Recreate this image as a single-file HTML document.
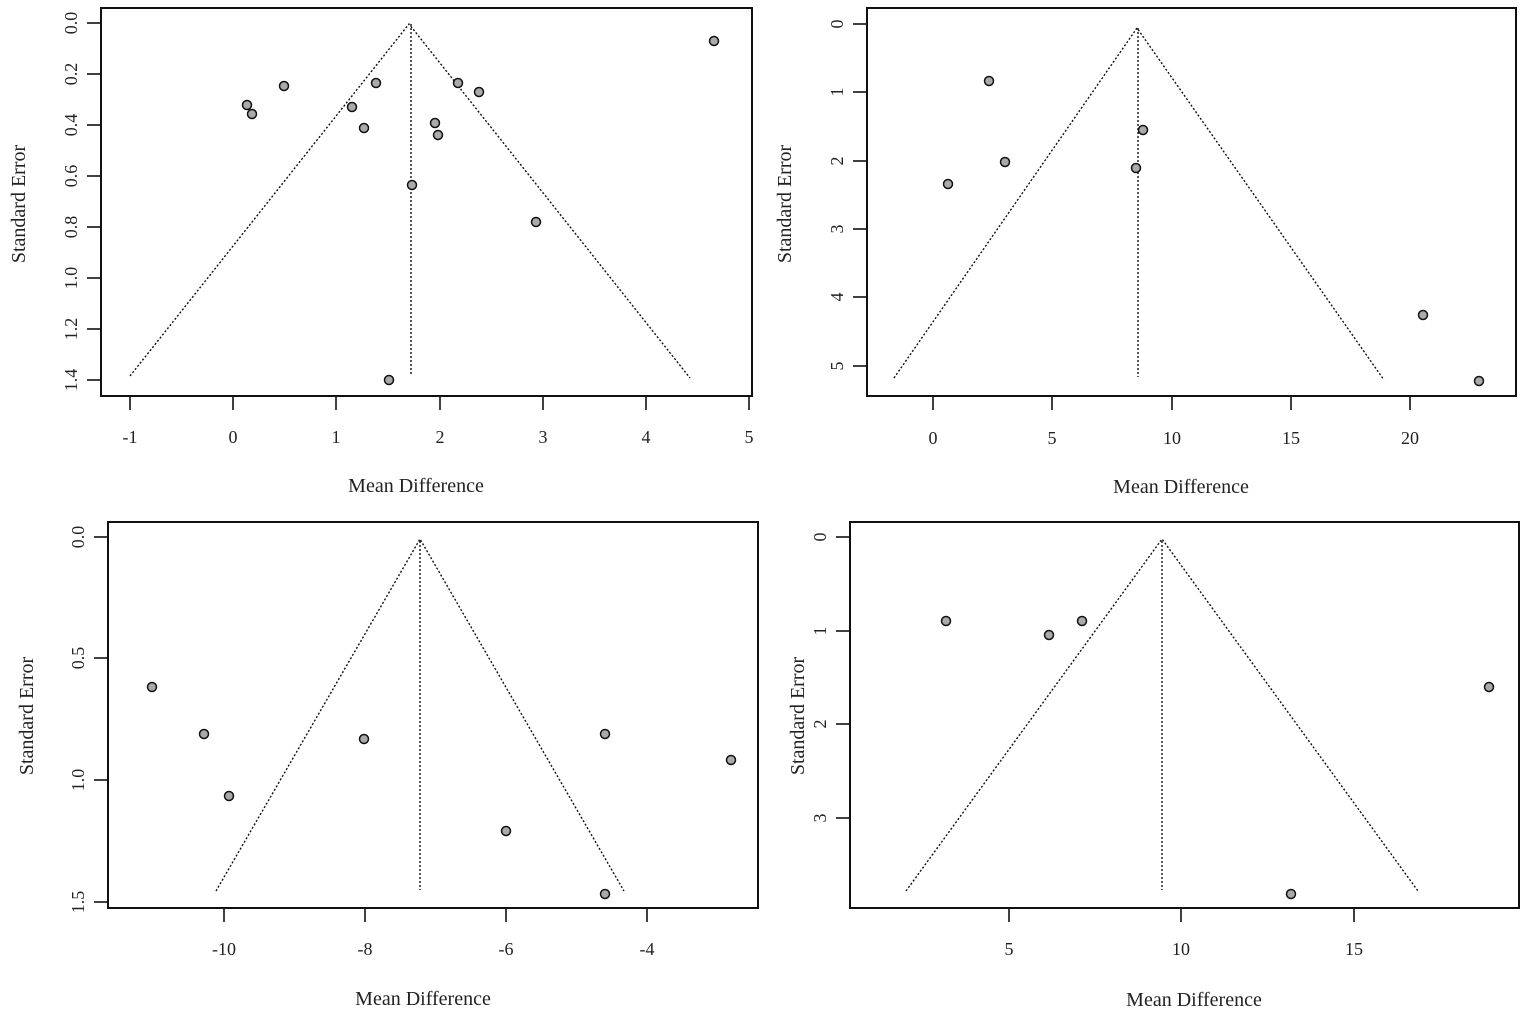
<!DOCTYPE html>
<html><head><meta charset="utf-8"><style>
html,body{margin:0;padding:0;background:#fff}
svg{display:block}
text{font-family:"Liberation Serif",serif;fill:#222}
</style></head><body>
<svg width="1535" height="1020" viewBox="0 0 1535 1020" xmlns="http://www.w3.org/2000/svg">
<g fill="none" stroke="#111" stroke-width="2">
<rect x="101" y="8" width="651" height="388"/>
<rect x="867" y="8" width="649" height="388"/>
<rect x="108" y="522" width="650" height="386"/>
<rect x="850" y="522" width="669" height="386"/>
</g>
<g stroke="#111" stroke-width="1.4" stroke-dasharray="2,2" fill="none">
<polyline points="130,376 409,24 690,378"/><line x1="411" y1="24" x2="411" y2="376"/>
<polyline points="894,378 1137,28 1384,380"/><line x1="1138" y1="28" x2="1138" y2="377"/>
<polyline points="216,891 420,539 624,891"/><line x1="420" y1="541" x2="420" y2="890"/>
<polyline points="906,891 1162,539 1418,891"/><line x1="1162" y1="541" x2="1162" y2="890"/>
</g>
<g stroke="#111" stroke-width="1.6">
<line x1="130" y1="396" x2="130" y2="410"/><line x1="233" y1="396" x2="233" y2="410"/><line x1="336" y1="396" x2="336" y2="410"/><line x1="440" y1="396" x2="440" y2="410"/><line x1="543" y1="396" x2="543" y2="410"/><line x1="646" y1="396" x2="646" y2="410"/><line x1="749" y1="396" x2="749" y2="410"/>
<line x1="87" y1="23" x2="101" y2="23"/><line x1="87" y1="74" x2="101" y2="74"/><line x1="87" y1="125" x2="101" y2="125"/><line x1="87" y1="176" x2="101" y2="176"/><line x1="87" y1="227" x2="101" y2="227"/><line x1="87" y1="278" x2="101" y2="278"/><line x1="87" y1="329" x2="101" y2="329"/><line x1="87" y1="380" x2="101" y2="380"/>
<line x1="933" y1="396" x2="933" y2="410"/><line x1="1052" y1="396" x2="1052" y2="410"/><line x1="1172" y1="396" x2="1172" y2="410"/><line x1="1291" y1="396" x2="1291" y2="410"/><line x1="1410" y1="396" x2="1410" y2="410"/>
<line x1="853" y1="24" x2="867" y2="24"/><line x1="853" y1="92" x2="867" y2="92"/><line x1="853" y1="161" x2="867" y2="161"/><line x1="853" y1="229" x2="867" y2="229"/><line x1="853" y1="297" x2="867" y2="297"/><line x1="853" y1="366" x2="867" y2="366"/>
<line x1="224" y1="908" x2="224" y2="922"/><line x1="365" y1="908" x2="365" y2="922"/><line x1="506" y1="908" x2="506" y2="922"/><line x1="647" y1="908" x2="647" y2="922"/>
<line x1="94" y1="537" x2="108" y2="537"/><line x1="94" y1="658" x2="108" y2="658"/><line x1="94" y1="780" x2="108" y2="780"/><line x1="94" y1="902" x2="108" y2="902"/>
<line x1="1009" y1="908" x2="1009" y2="922"/><line x1="1181" y1="908" x2="1181" y2="922"/><line x1="1354" y1="908" x2="1354" y2="922"/>
<line x1="836" y1="537" x2="850" y2="537"/><line x1="836" y1="631" x2="850" y2="631"/><line x1="836" y1="724" x2="850" y2="724"/><line x1="836" y1="818" x2="850" y2="818"/>
</g>
<g font-size="18" text-anchor="middle">
<text x="130" y="443">-1</text><text x="233" y="443">0</text><text x="336" y="443">1</text><text x="440" y="443">2</text><text x="543" y="443">3</text><text x="646" y="443">4</text><text x="749" y="443">5</text>
<text x="933" y="444">0</text><text x="1052" y="444">5</text><text x="1172" y="444">10</text><text x="1291" y="444">15</text><text x="1410" y="444">20</text>
<text x="224" y="955">-10</text><text x="365" y="955">-8</text><text x="506" y="955">-6</text><text x="647" y="955">-4</text>
<text x="1009" y="955">5</text><text x="1181" y="955">10</text><text x="1354" y="955">15</text>
</g>
<g font-size="18" text-anchor="middle">
<text transform="translate(77,23) rotate(-90)">0.0</text><text transform="translate(77,74) rotate(-90)">0.2</text><text transform="translate(77,125) rotate(-90)">0.4</text><text transform="translate(77,176) rotate(-90)">0.6</text><text transform="translate(77,227) rotate(-90)">0.8</text><text transform="translate(77,278) rotate(-90)">1.0</text><text transform="translate(77,329) rotate(-90)">1.2</text><text transform="translate(77,380) rotate(-90)">1.4</text>
<text transform="translate(843,24) rotate(-90)">0</text><text transform="translate(843,92) rotate(-90)">1</text><text transform="translate(843,161) rotate(-90)">2</text><text transform="translate(843,229) rotate(-90)">3</text><text transform="translate(843,297) rotate(-90)">4</text><text transform="translate(843,366) rotate(-90)">5</text>
<text transform="translate(84,537) rotate(-90)">0.0</text><text transform="translate(84,658) rotate(-90)">0.5</text><text transform="translate(84,780) rotate(-90)">1.0</text><text transform="translate(84,902) rotate(-90)">1.5</text>
<text transform="translate(826,537) rotate(-90)">0</text><text transform="translate(826,631) rotate(-90)">1</text><text transform="translate(826,724) rotate(-90)">2</text><text transform="translate(826,818) rotate(-90)">3</text>
</g>
<g font-size="20" text-anchor="middle">
<text x="416" y="492">Mean Difference</text>
<text x="1181" y="493">Mean Difference</text>
<text x="423" y="1005">Mean Difference</text>
<text x="1194" y="1006">Mean Difference</text>
<text transform="translate(25,204) rotate(-90)">Standard Error</text>
<text transform="translate(791,204) rotate(-90)">Standard Error</text>
<text transform="translate(33,716) rotate(-90)">Standard Error</text>
<text transform="translate(804,716) rotate(-90)">Standard Error</text>
</g>
<g fill="#aaa" stroke="#111" stroke-width="1.5">
<circle cx="714" cy="41" r="4.5"/><circle cx="284" cy="86" r="4.5"/><circle cx="247" cy="105" r="4.5"/><circle cx="252" cy="114" r="4.5"/><circle cx="376" cy="83" r="4.5"/><circle cx="352" cy="107" r="4.5"/><circle cx="364" cy="128" r="4.5"/><circle cx="458" cy="83" r="4.5"/><circle cx="479" cy="92" r="4.5"/><circle cx="435" cy="123" r="4.5"/><circle cx="438" cy="135" r="4.5"/><circle cx="412" cy="185" r="4.5"/><circle cx="536" cy="222" r="4.5"/><circle cx="389" cy="380" r="4.5"/>
<circle cx="989" cy="81" r="4.5"/><circle cx="1143" cy="130" r="4.5"/><circle cx="1005" cy="162" r="4.5"/><circle cx="1136" cy="168" r="4.5"/><circle cx="948" cy="184" r="4.5"/><circle cx="1423" cy="315" r="4.5"/><circle cx="1479" cy="381" r="4.5"/>
<circle cx="152" cy="687" r="4.5"/><circle cx="204" cy="734" r="4.5"/><circle cx="229" cy="796" r="4.5"/><circle cx="364" cy="739" r="4.5"/><circle cx="605" cy="734" r="4.5"/><circle cx="731" cy="760" r="4.5"/><circle cx="506" cy="831" r="4.5"/><circle cx="605" cy="894" r="4.5"/>
<circle cx="946" cy="621" r="4.5"/><circle cx="1049" cy="635" r="4.5"/><circle cx="1082" cy="621" r="4.5"/><circle cx="1489" cy="687" r="4.5"/><circle cx="1291" cy="894" r="4.5"/>
</g>
</svg>
</body></html>
